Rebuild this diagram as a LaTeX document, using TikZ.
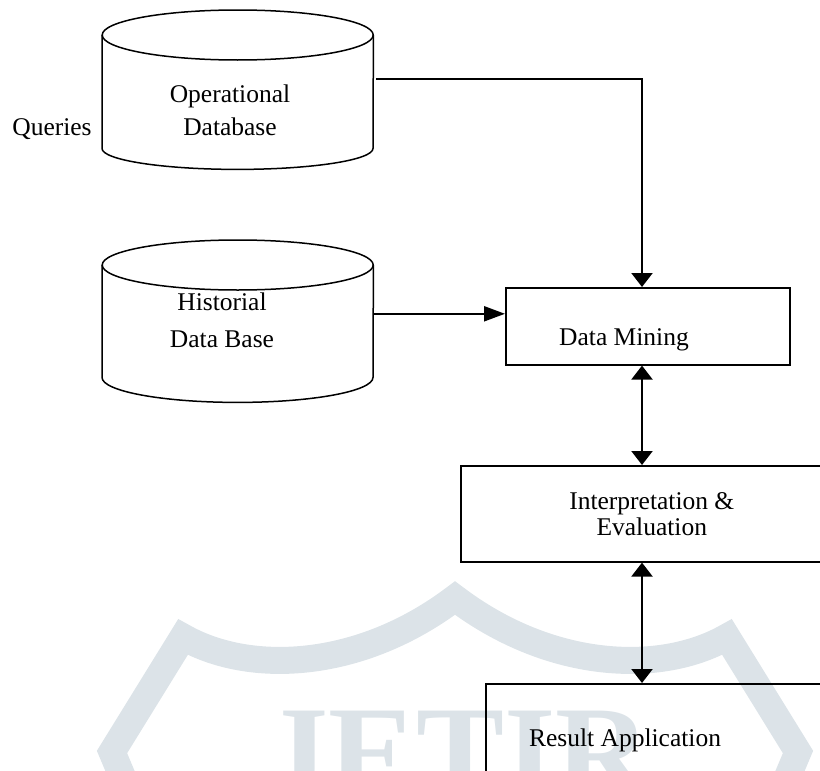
\documentclass[tikz,border=0pt]{standalone}
\usepackage{fontspec}
\setmainfont{Liberation Serif}
\usepackage{tikz}
\usetikzlibrary{arrows.meta,positioning}
\definecolor{wm}{RGB}{220,227,232}
\tikzset{txt/.style={font=\fontsize{25.5}{33}\selectfont,inner sep=0pt,align=center},
  box/.style={draw,line width=1.6pt,inner sep=0pt,anchor=north west,minimum width=#1},
  box/.default=284pt,
  db/.style={inner sep=0pt,minimum width=271pt,minimum height=#1,anchor=north west},
  arr/.style={-{Triangle[length=14pt,width=21pt]},line width=2.2pt},
  dbl/.style={{Triangle[length=14pt,width=21pt]}-{Triangle[length=14pt,width=21pt]},line width=2.2pt},
  harr/.style={-{Triangle[length=21pt,width=15pt]},line width=2.2pt}}
% cylinder round an (invisible) body node: name, radius of the bottom arc
\newcommand{\dbcyl}[2]{%
  \draw[line width=1.5pt] (#1.north west) -- (#1.south west)
    arc[start angle=180,end angle=360,x radius=135.5,y radius=#2] -- (#1.north east);
  \draw[line width=1.5pt] (#1.north) ellipse[x radius=135.5,y radius=25];}

\begin{document}
\begin{tikzpicture}[x=1pt,y=1pt]
\useasboundingbox (0,0) rectangle (820,-771);
\clip (0,0) rectangle (820,-771);
% watermark
\draw[wm,line width=27pt,miter limit=10] (128,-790) -- (112,-752) -- (183,-637)
  .. controls (250,-675) and (360,-670) .. (455,-598)
  .. controls (550,-670) and (660,-675) .. (727,-637) -- (798,-752) -- (782,-790);
\node[wm,anchor=base west,inner sep=0pt,font=\fontsize{132}{132}\selectfont\bfseries] (logo) at (262,-797) {JETIR};
% databases
\node[db=113pt] (opdb) at (102,-35) {};
\dbcyl{opdb}{21}
\node[db=112pt] (hdb) at (102,-265) {};
\dbcyl{hdb}{25}
\node[txt] (optxt) at (230,-110) {Operational\\Database};
\node[txt,anchor=base] (qry) at (52,-135) {Queries};
\node[txt,font=\fontsize{25.5}{37}\selectfont] (htxt) at (222,-320) {Historial\\Data Base};
% boxes
\node[box,minimum height=77pt] (dm) at (505,-287) {};
\node[txt,anchor=base] (dmtxt) at (624,-345) {Data Mining};
\node[box=382pt,minimum height=96pt,txt,font=\fontsize{25.5}{26}\selectfont] (ev) at (460,-465) {Interpretation \&\\Evaluation};
\node[box=380pt,minimum height=130pt] (res) at (485,-683) {};
\node[txt,anchor=base] (restxt) at (625,-746) {Result Application};
% connectors
\coordinate (spine) at (642,0);
\coordinate (opout) at ([shift={(3pt,12.5pt)}]opdb.east);
\coordinate (dmin) at ([yshift=12.5pt]dm.west);
\draw[arr] (opout) -| (dm.north -| spine);
\draw[harr] (hdb.east |- dmin) -- (dmin);
\draw[dbl] (dm.south -| spine) -- (ev.north -| spine);
\draw[dbl] (ev.south -| spine) -- (res.north -| spine);
\end{tikzpicture}
\end{document}
